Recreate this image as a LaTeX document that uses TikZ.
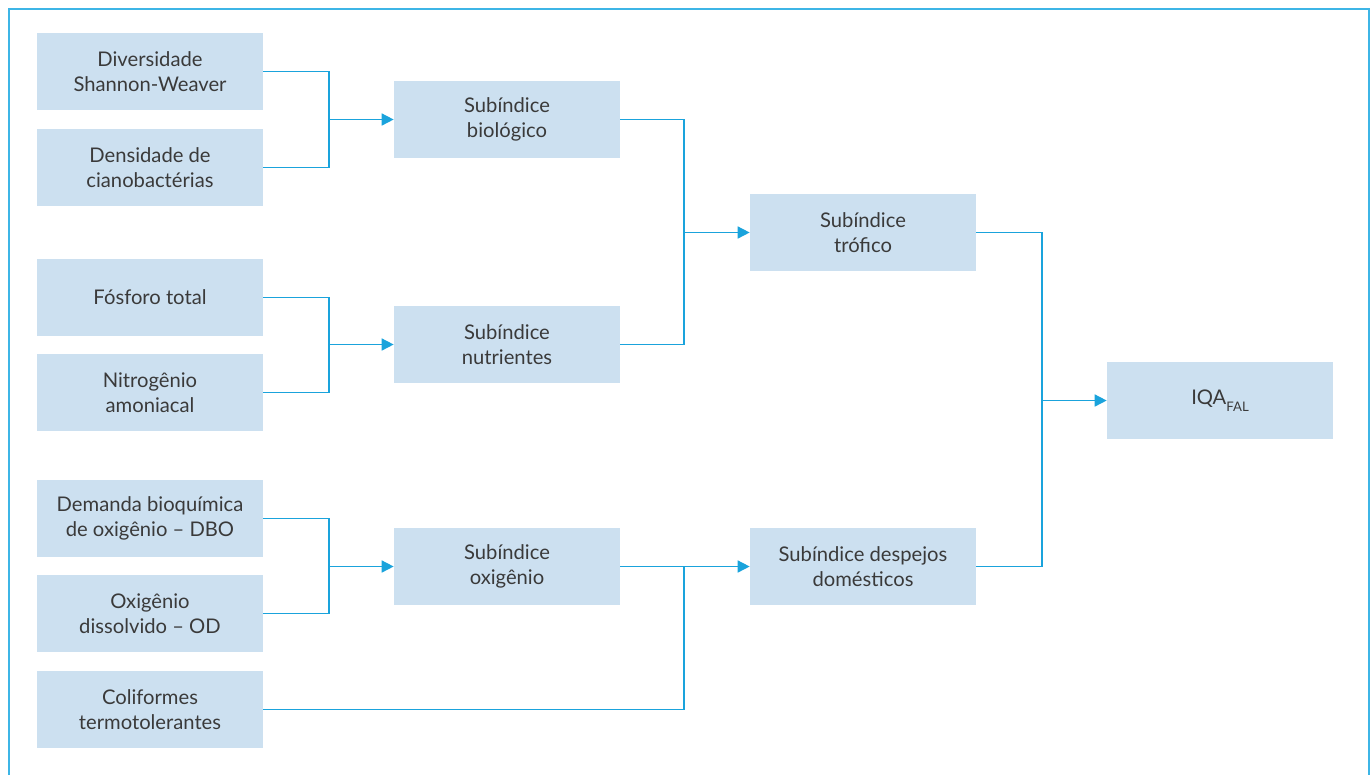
\documentclass[tikz,border=0pt]{standalone}
\usepackage{fontspec}
\setmainfont{Lato}
\usepackage{tikz}
\usetikzlibrary{arrows.meta,calc,positioning}
\definecolor{boxblue}{HTML}{CCE0F0}
\definecolor{linkblue}{HTML}{1AA3DC}
\definecolor{frameblue}{HTML}{3DB5E6}
\definecolor{txtgray}{HTML}{3A3A3A}
\tikzstyle{box}  =[rectangle, fill=boxblue, draw=none,
                   minimum width=4.52cm, minimum height=1.54cm,
                   inner sep=2pt, align=center, text=txtgray,
                   font=\fontsize{11.5pt}{14.2pt}\selectfont]
\tikzstyle{link} =[draw=linkblue, line width=0.9pt,
                   >={Triangle[length=0.24cm,width=0.24cm]}]
\tikzstyle{frame}=[draw=frameblue, line width=1.4pt]
\newcommand{\lowsub}[1]{\raisebox{-0.7ex}{\fontsize{7.5pt}{7.5pt}\selectfont #1}}

\begin{document}
\begin{tikzpicture}[x=0.02cm, y=-0.02cm]
    \useasboundingbox (0,0) rectangle (1372,775);
    \draw[frame] (9,775) -- (9,9) -- (1369,9) -- (1369,775);
    % inputs
    \node[box] (div)  at (150,71.5)  {Diversidade\\Shannon-Weaver};
    \node[box] (dens) at (150,167.5) {Densidade de\\cianobactérias};
    \node[box] (fos)  at (150,297.5) {Fósforo total};
    \node[box] (nit)  at (150,392.5) {Nitrogênio\\amoniacal};
    \node[box] (dbo)  at (150,518.5) {Demanda bioquímica\\de oxigênio – DBO};
    \node[box] (od)   at (150,613.5) {Oxigênio\\dissolvido – OD};
    \node[box] (col)  at (150,709.5) {Coliformes\\termotolerantes};
    % subindices
    \node[box] (bio)  at (507,119.5) {Subíndice\\biológico};
    \node[box] (nut)  at (507,344.5) {Subíndice\\nutrientes};
    \node[box] (oxi)  at (507,566.5) {Subíndice\\oxigênio};
    \node[box] (tro)  at (863,232.5) {Subíndice\\trófico};
    \node[box] (dom)  at (863,566.5) {Subíndice despejos\\domésticos};
    \node[box] (iqa)  at (1220,400.5) {IQA\lowsub{FAL}};
    % junctions
    \coordinate (j1) at (329,119.5);
    \coordinate (j2) at (329,344.5);
    \coordinate (j3) at (329,566.5);
    \coordinate (j4) at (684,232.5);
    \coordinate (j5) at (684,566.5);
    \coordinate (j6) at (1042,400.5);
    \draw[link] (div.east) -| (j1) |- (dens.east);
    \draw[link,->] (j1) -- (bio.west);
    \draw[link] (fos.east) -| (j2) |- (nit.east);
    \draw[link,->] (j2) -- (nut.west);
    \draw[link] (dbo.east) -| (j3) |- (od.east);
    \draw[link,->] (j3) -- (oxi.west);
    \draw[link] (bio.east) -| (j4) |- (nut.east);
    \draw[link,->] (j4) -- (tro.west);
    \draw[link,->] (oxi.east) -- (dom.west);
    \draw[link] (col.east) -| (j5);
    \draw[link] (tro.east) -| (j6) |- (dom.east);
    \draw[link,->] (j6) -- (iqa.west);
\end{tikzpicture}
\end{document}
